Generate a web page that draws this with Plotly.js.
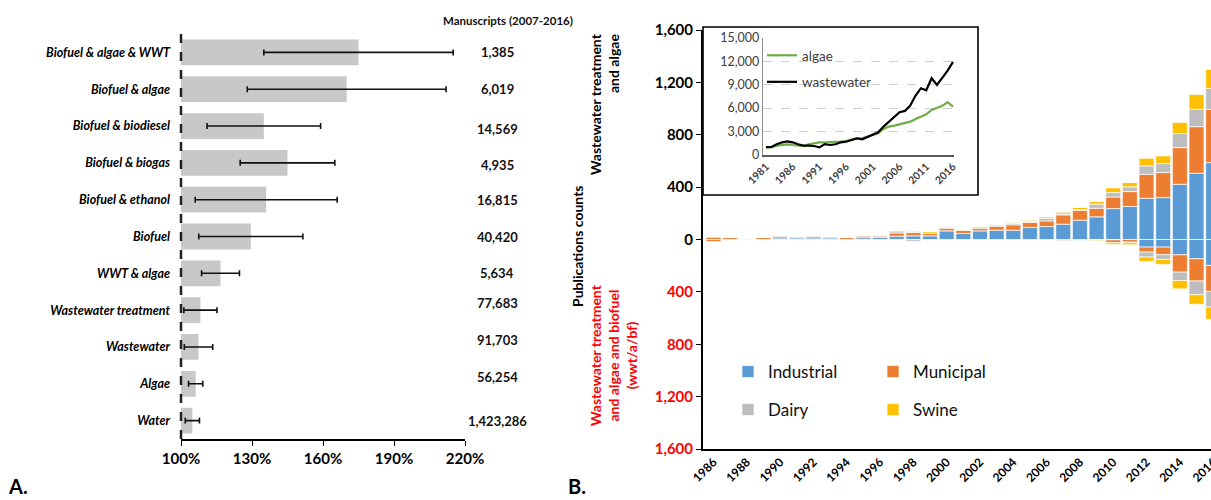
<!DOCTYPE html>
<html>
<head>
<meta charset="utf-8">
<script src="https://cdn.plot.ly/plotly-3.0.1.min.js"></script>
<style>
html,body{margin:0;padding:0;overflow:hidden;background:#fff;}
#chart{width:1260px;height:500px;}
</style>
</head>
<body>
<div id="chart"></div>
<script>
// ---------- Panel A data ----------
const categories = ['Biofuel & algae & WWT','Biofuel & algae','Biofuel & biodiesel','Biofuel & biogas','Biofuel & ethanol','Biofuel','WWT & algae','Wastewater treatment','Wastewater','Algae','Water'];
const ratioPct = [175, 170, 135, 145, 136, 129.5, 116.7, 108.2, 107.4, 106.2, 104.8];
const ratioErr = [40, 42, 24, 20, 30, 22, 8, 7, 6, 3, 3];
const manuscripts = ['1,385','6,019','14,569','4,935','16,815','40,420','5,634','77,683','91,703','56,254','1,423,286'];
const manuscriptShift = [0, 0, -3, -2, 0, 0, 0, 7, 7, 7, 0];
const pctTicks = [100, 130, 160, 190, 220];
const pctLabels = ['100%', '130%', '160%', '190%', '220%'];

// ---------- Panel B data ----------
const years = [1986,1987,1988,1989,1990,1991,1992,1993,1994,1995,1996,1997,1998,1999,2000,2001,2002,2003,2004,2005,2006,2007,2008,2009,2010,2011,2012,2013,2014,2015,2016];
const industrialTop = [0,0,0,0,12,12,12,12,0,14,16,25,28,28,66,46,66,71,71,92,99,117,147,173,236,252,315,320,422,506,587];
const municipalTop  = [20,15,0,15,15,10,14,10,15,14,12,25,25,20,20,25,20,31,41,38,43,71,76,66,89,114,183,191,280,356,407];
const dairyTop      = [0,0,7,0,0,0,0,0,0,0,0,15,10,0,5,0,10,3,10,8,20,6,5,31,33,36,64,69,107,132,160];
const swineTop      = [4,4,5,3,6,0,6,0,3,6,5,8,6,13,10,8,8,10,13,13,13,18,20,20,38,33,58,58,84,114,145];
const industrialBot = [0,0,0,0,0,0,0,0,0,0,0,0,0,0,0,0,0,0,0,0,0,0,6,0,3,0,58,58,117,147,198];
const municipalBot  = [15,0,0,0,0,0,0,0,0,0,0,0,0,0,0,0,0,0,0,0,0,8,0,0,20,20,38,58,132,170,198];
const dairyBot      = [0,0,0,0,0,0,0,0,0,0,0,0,13,0,0,0,0,0,0,0,0,0,0,5,0,5,38,36,64,104,120];
const swineBot      = [0,0,0,0,0,0,0,0,0,0,0,0,0,0,0,0,0,0,0,0,0,0,0,6,13,15,33,38,64,74,94];
const countTicks = [-1600,-1200,-800,-400,0,400,800,1200,1600];
const countLabels = ['1,600','1,200','800','400','0','400','800','1,200','1,600'];
const yearTicks = [1986,1988,1990,1992,1994,1996,1998,2000,2002,2004,2006,2008,2010,2012,2014,2016];

// ---------- Inset data ----------
const insetYears = [1981,1982,1983,1984,1985,1986,1987,1988,1989,1990,1991,1992,1993,1994,1995,1996,1997,1998,1999,2000,2001,2002,2003,2004,2005,2006,2007,2008,2009,2010,2011,2012,2013,2014,2015,2016];
const algae = [980,980,1200,1280,1370,1280,1200,1150,1370,1500,1620,1620,1620,1700,1700,1790,1920,2130,2130,2350,2560,2780,3330,3630,3760,3930,4060,4270,4610,4910,5210,5760,5980,6280,6750,6190];
const wastewater = [1000,1020,1370,1620,1750,1620,1370,1200,1200,1150,980,1400,1280,1370,1620,1700,1920,2130,2000,2300,2650,2900,3630,4270,4780,5470,5640,6320,7600,8540,8280,9820,8970,9900,10800,11900];
const insetYTicks = [0,3000,6000,9000,12000,15000];
const insetXTicks = [1981,1986,1991,1996,2001,2006,2011,2016];

// ---------- layout helpers ----------
const W = 1260, H = 500;
const fx = px => px / W;
const fy = py => 1 - py / H;
const FONT = 'Lato, "Open Sans", sans-serif';
const colors = {Industrial:'#5B9BD5', Municipal:'#ED7D31', Dairy:'#BDBDBD', Swine:'#FFC000'};

const traces = [];
traces.push({
  type:'bar', orientation:'h', x: ratioPct, y: categories, xaxis:'x', yaxis:'y',
  marker:{color:'#C8C8C8'}, width:0.7, showlegend:false, hoverinfo:'x+y',
  error_x:{type:'data', array: ratioErr, visible:true, color:'#111', thickness:1.6, width:3}
});

const neg = a => a.map(v => -v);
const seriesDefs = [
  ['Industrial', industrialTop, industrialBot, 'legend'],
  ['Municipal', municipalTop, municipalBot, 'legend'],
  ['Dairy', dairyTop, dairyBot, 'legend3'],
  ['Swine', swineTop, swineBot, 'legend3']
];
seriesDefs.forEach(([name, top, bot, lg]) => {
  traces.push({type:'bar', name:name, x: years, y: top, xaxis:'x2', yaxis:'y2',
    marker:{color:colors[name], line:{color:'#fff', width:0.7}}, legend: lg, legendgroup:name});
});
seriesDefs.forEach(([name, top, bot, lg]) => {
  traces.push({type:'bar', name:name, x: years, y: neg(bot), xaxis:'x2', yaxis:'y2',
    marker:{color:colors[name], line:{color:'#fff', width:0.7}}, showlegend:false, legendgroup:name});
});
traces.push({type:'scatter', mode:'lines', name:'algae', x: insetYears, y: algae, xaxis:'x3', yaxis:'y3',
  line:{color:'#70AD47', width:2.2}, legend:'legend2', legendgroup:'a'});
traces.push({type:'scatter', mode:'lines', name:'wastewater', x: insetYears, y: wastewater, xaxis:'x3', yaxis:'y3',
  line:{color:'#000', width:2.2}, legend:'legend2', legendgroup:'b'});

const redTick = countLabels.map((t,i) => countTicks[i] < 0 ? '<span style="color:#FF0000">'+t+'</span>' : t);

const annotations = [];
manuscripts.forEach((m,i) => annotations.push({
  xref:'paper', yref:'y', x: fx(497), y: categories[i], text: m, showarrow:false,
  xanchor:'center', yanchor:'middle', yshift: manuscriptShift[i],
  font:{family:FONT, size:13, color:'#111', weight:'bold'}
}));
annotations.push({xref:'paper', yref:'paper', x: fx(508), y: fy(20), text:'Manuscripts (2007-2016)', showarrow:false,
  xanchor:'center', yanchor:'middle', font:{family:FONT, size:11.5, color:'#111', weight:'bold'}});
annotations.push({xref:'paper', yref:'paper', x: fx(6), y: fy(486), text:'A.', showarrow:false,
  xanchor:'left', yanchor:'middle', font:{family:FONT, size:20, color:'#000', weight:'bold'}});
annotations.push({xref:'paper', yref:'paper', x: fx(566), y: fy(486), text:'B.', showarrow:false,
  xanchor:'left', yanchor:'middle', font:{family:FONT, size:20, color:'#000', weight:'bold'}});
annotations.push({xref:'paper', yref:'paper', x: fx(577), y: fy(246), text:'Publications counts', showarrow:false,
  textangle:-90, xanchor:'center', yanchor:'middle', font:{family:FONT, size:14, color:'#000', weight:'bold'}});
annotations.push({xref:'paper', yref:'paper', x: fx(605), y: fy(104), text:'Wastewater treatment<br>and algae', showarrow:false,
  textangle:-90, xanchor:'center', yanchor:'middle', align:'right', font:{family:FONT, size:14, color:'#000', weight:'bold'}});
annotations.push({xref:'paper', yref:'paper', x: fx(613), y: fy(355), text:'Wastewater treatment<br>and algae and biofuel<br>(wwt/a/bf)', showarrow:false,
  textangle:-90, xanchor:'center', yanchor:'middle', align:'center', font:{family:FONT, size:14, color:'#FF0000', weight:'bold'}});

const shapes = [
  {type:'rect', xref:'paper', yref:'paper', x0: fx(703), x1: fx(978), y0: fy(195), y1: fy(27),
   line:{color:'#000', width:1.6}, fillcolor:'#fff', layer:'below'},
  {type:'line', xref:'paper', yref:'paper', x0: fx(181), x1: fx(181), y0: fy(439), y1: fy(34),
   line:{color:'#222', width:2.5, dash:'dash'}}
];

const layout = {
  width: W, height: H, margin:{l:0,r:0,t:0,b:0},
  paper_bgcolor:'#fff', plot_bgcolor:'rgba(0,0,0,0)',
  font:{family:FONT, color:'#000'},
  barmode:'relative', bargap:0.1,
  xaxis:{domain:[fx(181), fx(465)], range:[100,220], tickvals:pctTicks, ticktext:pctLabels,
    showline:true, linecolor:'#000', linewidth:1.5, ticks:'outside', ticklen:5, tickcolor:'#000',
    showgrid:false, zeroline:false, tickfont:{family:FONT, size:15, weight:'bold'}, anchor:'y', fixedrange:true},
  yaxis:{domain:[fy(439), fy(34)], autorange:'reversed', showline:false, ticks:'', showgrid:false,
    ticklabelstandoff:10, tickfont:{family:FONT, size:12.5, weight:'bold', style:'italic'}, anchor:'x'},
  xaxis2:{domain:[fx(703), fx(1221.5)], range:[1985.37, 2016.5], tickvals: yearTicks, tickangle:-45,
    showline:true, linecolor:'#000', linewidth:1.5, ticks:'', showgrid:false, zeroline:false,
    tickfont:{family:FONT, size:12, weight:'bold'}, anchor:'y2'},
  yaxis2:{domain:[fy(449), fy(30)], range:[-1600,1600], tickvals: countTicks, ticktext: redTick,
    showline:true, linecolor:'#000', linewidth:2, ticks:'outside', ticklen:5, tickcolor:'#000',
    showgrid:false, zeroline:false, tickfont:{family:FONT, size:15, weight:'bold', color:'#000'}, anchor:'x2'},
  xaxis3:{domain:[fx(763), fx(954)], range:[1980.44, 2016.19], tickvals: insetXTicks, tickangle:-45,
    showline:true, linecolor:'#595959', linewidth:1.5, ticks:'', showgrid:false, zeroline:false,
    tickfont:{family:FONT, size:10.5, weight:'bold', color:'#404040'}, anchor:'y3'},
  yaxis3:{domain:[fy(155), fy(37.7)], range:[0,15000], tickvals: insetYTicks, tickformat:',d',
    showline:true, linecolor:'#8c8c8c', linewidth:1.2, ticks:'', showgrid:true, gridcolor:'#cfcfcf', griddash:'dash',
    zeroline:false, tickfont:{family:FONT, size:12.5, color:'#404040'}, anchor:'x3'},
  legend:{x: fx(728), y: fy(372), xanchor:'left', yanchor:'middle', orientation:'h',
    entrywidth:100, entrywidthmode:'pixels', bgcolor:'rgba(0,0,0,0)', font:{family:FONT, size:17, color:'#111'}},
  legend3:{x: fx(728), y: fy(410), xanchor:'left', yanchor:'middle', orientation:'h',
    entrywidth:100, entrywidthmode:'pixels', bgcolor:'rgba(0,0,0,0)', font:{family:FONT, size:17, color:'#111'}},
  legend2:{x: fx(762), y: fy(40), xanchor:'left', yanchor:'top', orientation:'v', traceorder:'grouped', tracegroupgap:6,
    bgcolor:'rgba(0,0,0,0)', font:{family:FONT, size:13.5, color:'#404040'}},
  annotations: annotations,
  shapes: shapes,
  showlegend:true
};

Plotly.newPlot('chart', traces, layout, {staticPlot:true, displayModeBar:false});
</script>
</body>
</html>
